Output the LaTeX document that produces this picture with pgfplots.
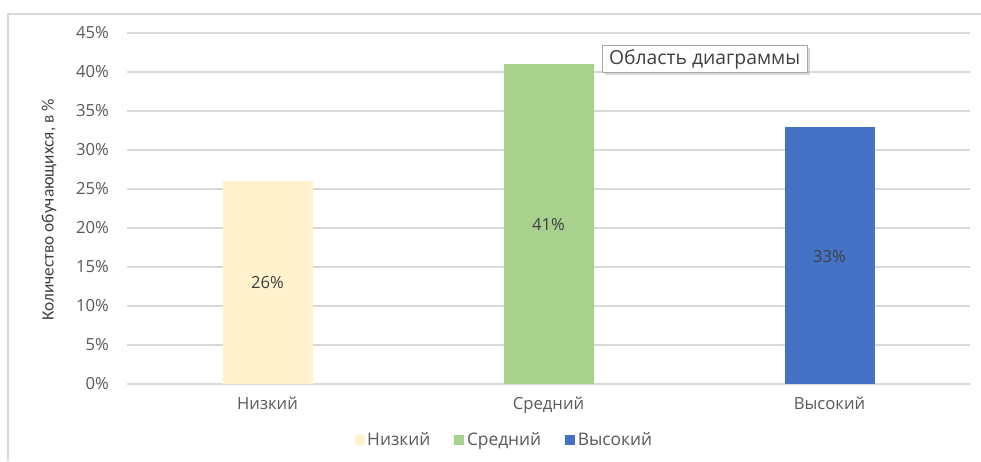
\documentclass[border=0pt]{standalone}
\usepackage{fontspec}
\setmainfont{Open Sans}
\newfontfamily\carl{Carlito}
\usepackage{pgfplots}
\pgfplotsset{compat=1.18}
\usetikzlibrary{shadows}
\definecolor{lowc}{HTML}{FFF2CC}
\definecolor{midc}{HTML}{A9D18E}
\definecolor{highc}{HTML}{4472C4}
\definecolor{txt}{HTML}{595959}
\definecolor{lbl}{HTML}{404040}
\definecolor{gridc}{HTML}{D9D9D9}
\begin{document}
\begin{tikzpicture}
\path[use as bounding box] (0pt,0pt) rectangle (735.75pt,345.75pt);
\draw[gridc, line width=0.8pt] (6pt,0pt) -- (6pt,335.25pt) -- (735.75pt,335.25pt);
\begin{axis}[
  at={(95.25pt,57.75pt)}, anchor=south west,
  scale only axis,
  width=632.25pt, height=263.25pt,
  xmin=-0.5, xmax=2.5, ymin=0, ymax=45,
  xtick={0,1,2}, xticklabels={Низкий,Средний,Высокий},
  ytick={0,5,...,45},
  yticklabel={\pgfmathprintnumber{\tick}\%},
  /pgf/number format/assume math mode=true,
  ymajorgrids, grid style={gridc, line width=0.8pt},
  axis line style={draw=none},
  axis x line*=bottom,
  x axis line style={draw=gridc, line width=0.8pt},
  major tick length=0pt,
  tick label style={font=\fontsize{12.5}{15}\selectfont, text=txt},
  yticklabel style={xshift=-10pt},
  xticklabel style={yshift=-6pt},
  ylabel={Количество обучающихся, в \%},
  ylabel style={font=\carl\fontsize{13}{15}\selectfont, text=lbl, xshift=-1pt, yshift=8pt},
  ybar, bar width=67.5pt, bar shift=0pt,
  legend style={at={(0.448,-0.16)}, anchor=center, draw=none, legend columns=3,
    font=\fontsize{13}{15}\selectfont, text=txt,
    /tikz/every even column/.append style={column sep=16pt}},
  legend image code/.code={\fill[#1] (0pt,-3.75pt) rectangle (7.5pt,3.75pt);},
  clip=false,
]
\addplot[fill=lowc, draw=none] coordinates {(0,26)};
\addlegendentry{Низкий}
\addplot[fill=midc, draw=none] coordinates {(1,41)};
\addlegendentry{Средний}
\addplot[fill=highc, draw=none] coordinates {(2,33)};
\addlegendentry{Высокий}
\addplot[draw=none, mark=none, forget plot, nodes near coords, point meta=explicit symbolic,
  every node near coord/.append style={anchor=center, font=\fontsize{12.5}{15}\selectfont, text=lbl}]
  coordinates {(0,13)[26\%] (1,20.4)[41\%] (2,16.3)[33\%]};
\end{axis}
\node[draw=gray!70, fill=white, drop shadow={shadow xshift=2pt, shadow yshift=-2pt, fill=gray!60}, inner xsep=5pt, inner ysep=3pt, font=\fontsize{14.5}{16}\selectfont, text=lbl] at (528.5pt,301.5pt) {Область диаграммы};
\end{tikzpicture}
\end{document}
